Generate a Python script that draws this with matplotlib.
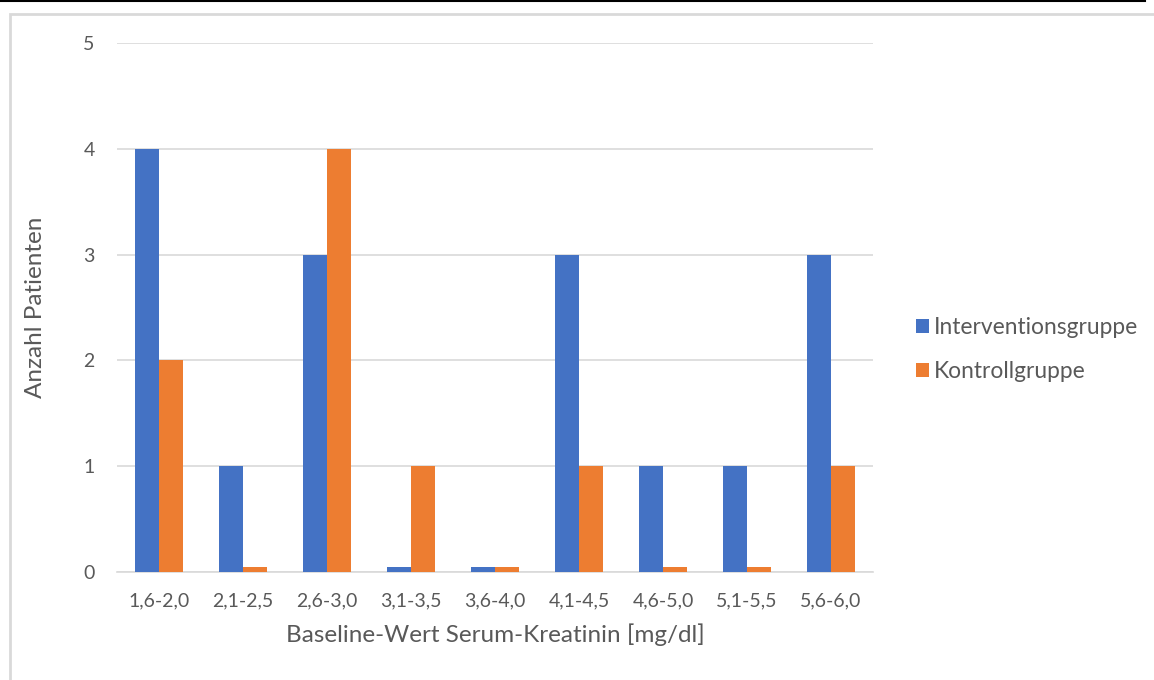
import matplotlib.pyplot as plt
import numpy as np
from matplotlib.lines import Line2D
from matplotlib.patches import Rectangle

plt.rcParams['font.family'] = ['Lato', 'DejaVu Sans']

kategorien = ['1,6-2,0', '2,1-2,5', '2,6-3,0', '3,1-3,5', '3,6-4,0',
              '4,1-4,5', '4,6-5,0', '5,1-5,5', '5,6-6,0']
intervention = [4, 1, 3, 0.05, 0.05, 3, 1, 1, 3]
kontrolle = [2, 0.05, 4, 1, 0.05, 1, 0.05, 0.05, 1]

blau = '#4472C4'
orange = '#ED7D31'
grau_text = '#595959'
grau_linie = '#D9D9D9'

fig = plt.figure(figsize=(11.54, 6.8), dpi=100)
ax = fig.add_axes([117 / 1154, 1 - 572 / 680, 756 / 1154, 529 / 680])

x = np.arange(len(kategorien))
b = 0.285
ax.bar(x - b / 2, intervention, b, color=blau, label='Interventionsgruppe', zorder=3)
ax.bar(x + b / 2, kontrolle, b, color=orange, label='Kontrollgruppe', zorder=3)

ax.set_xlim(-0.5, len(kategorien) - 0.5)
ax.set_ylim(0, 5)
ax.set_yticks(range(6))
ax.set_xticks(x)
ax.set_xticklabels(kategorien)
ax.yaxis.grid(True, color=grau_linie, linewidth=1.2, zorder=0)
ax.tick_params(axis='both', length=0, labelsize=14, colors=grau_text)
ax.tick_params(axis='x', pad=15)
ax.tick_params(axis='y', pad=16)
for s in ['top', 'right', 'left']:
    ax.spines[s].set_visible(False)
ax.spines['bottom'].set_color(grau_linie)
ax.spines['bottom'].set_linewidth(1.2)

ax.set_xlabel('Baseline-Wert Serum-Kreatinin [mg/dl]', fontsize=17.5, color=grau_text, labelpad=10)
ax.set_ylabel('Anzahl Patienten', fontsize=17.5, color=grau_text, labelpad=27)

ax.legend(loc='center left', bbox_to_anchor=(1.057, 0.42), frameon=False,
          borderaxespad=0, borderpad=0,
          fontsize=16.4, labelcolor=grau_text, handlelength=0.57, handleheight=0.57,
          handletextpad=0.2, labelspacing=1.0)

# Rahmen um das Diagramm
fig.add_artist(Line2D([0, 1145 / 1154], [1 - 1 / 680, 1 - 1 / 680], color='black', linewidth=1.5))
fig.add_artist(Rectangle((9.5 / 1154, -0.1), 1.2, 1 - 13.5 / 680 + 0.1, fill=False,
                         edgecolor=grau_linie, linewidth=2))

fig.savefig('out.png', dpi=100)
